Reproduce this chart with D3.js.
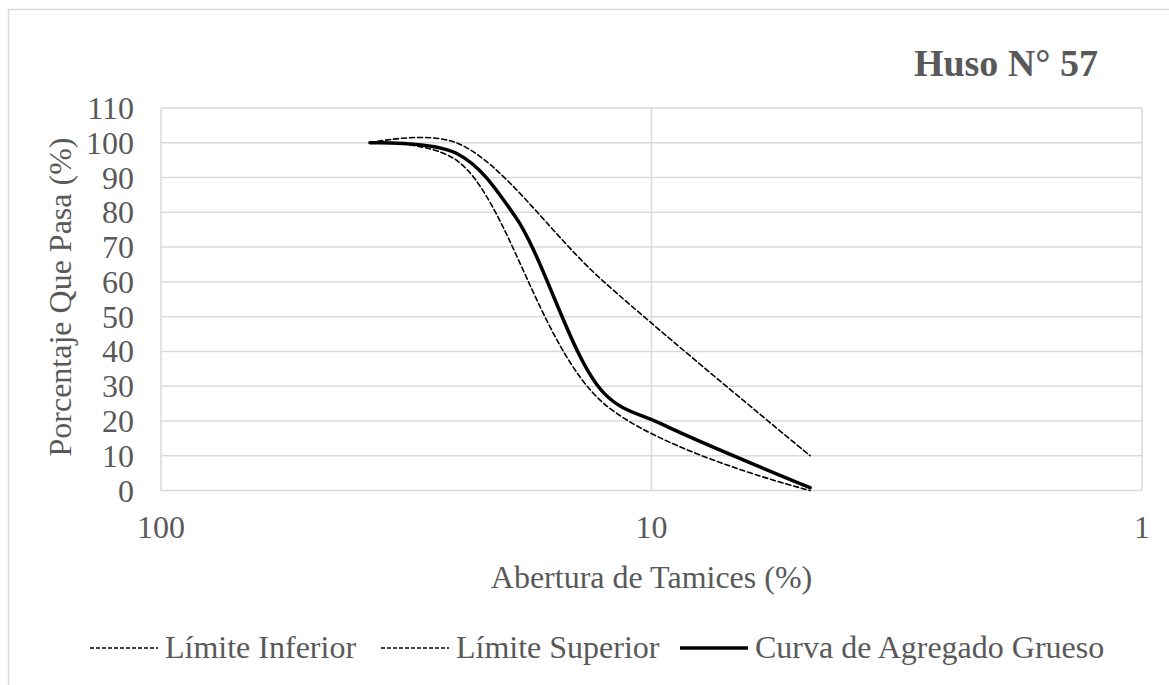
<!DOCTYPE html>
<html>
<head>
<meta charset="utf-8">
<script src="https://cdn.jsdelivr.net/npm/d3@7"></script>
<style>
  body { margin: 0; background: #fff; }
  svg text { font-family: "Liberation Serif", "Times New Roman", serif; fill: #595959; }
</style>
</head>
<body>
<div id="chart"></div>
<script>

// sieve openings (mm) and % passing
var tamices = [37.5, 25, 12.5, 4.75];
var limiteInferior = [100, 95, 25, 0];
var limiteSuperior = [100, 100, 60, 10];
var tamicesCurva = [37.5, 25, 19, 12.5, 9.5, 4.75];
var curvaGrueso = [100, 97, 79, 28, 19, 0.8];

var yTicks = [0, 10, 20, 30, 40, 50, 60, 70, 80, 90, 100, 110];
var xTicks = [100, 10, 1];

function drawChart(){

    var width = 1169,
        height = 685;

    var svg = d3.select('#chart')
        .append('svg')
        .attr('width', width)
        .attr('height', height)
        .attr('font-family', 'Liberation Serif, Times New Roman, serif');

    //outer chart border
    svg.append('rect')
        .attr('x', 8.5).attr('y', 9.5)
        .attr('width', 1180).attr('height', 700)
        .attr('fill', 'none')
        .attr('stroke', '#d9d9d9')
        .attr('stroke-width', 1.5);

    var x = d3.scaleLog().domain([100, 1]).range([161, 1142]);
    var y = d3.scaleLinear().domain([0, 110]).range([490.5, 108]);

    //horizontal gridlines
    svg.selectAll('.hgrid')
        .data(yTicks)
        .enter()
        .append('line')
        .attr('class', 'hgrid')
        .attr('x1', x(100)).attr('x2', x(1))
        .attr('y1', function(d){ return y(d); })
        .attr('y2', function(d){ return y(d); })
        .attr('stroke', '#d9d9d9')
        .attr('stroke-width', 1.5);

    //vertical gridlines
    svg.selectAll('.vgrid')
        .data(xTicks)
        .enter()
        .append('line')
        .attr('class', 'vgrid')
        .attr('x1', function(d){ return x(d); })
        .attr('x2', function(d){ return x(d); })
        .attr('y1', y(0)).attr('y2', y(110))
        .attr('stroke', '#d9d9d9')
        .attr('stroke-width', 1.5);

    //y tick labels
    svg.selectAll('.ylab')
        .data(yTicks)
        .enter()
        .append('text')
        .attr('class', 'ylab')
        .attr('x', 134)
        .attr('y', function(d){ return y(d) + 11; })
        .attr('text-anchor', 'end')
        .style('font-size', '32px')
        .text(function(d){ return d; });

    //x tick labels
    svg.selectAll('.xlab')
        .data(xTicks)
        .enter()
        .append('text')
        .attr('class', 'xlab')
        .attr('x', function(d){ return x(d); })
        .attr('y', 538)
        .attr('text-anchor', 'middle')
        .style('font-size', '32px')
        .text(function(d){ return d; });

    //axis titles
    svg.append('text')
        .attr('x', (x(100) + x(1)) / 2)
        .attr('y', 588)
        .attr('text-anchor', 'middle')
        .style('font-size', '32px')
        .text('Abertura de Tamices (%)');

    svg.append('text')
        .attr('transform', 'translate(71,297) rotate(-90)')
        .attr('text-anchor', 'middle')
        .style('font-size', '32px')
        .text('Porcentaje Que Pasa (%)');

    //title
    svg.append('text')
        .attr('x', 1098)
        .attr('y', 76)
        .attr('text-anchor', 'end')
        .style('font-size', '38px')
        .style('font-weight', 'bold')
        .text('Huso N° 57');

    var line = d3.line()
        .x(function(d){ return x(d[0]); })
        .y(function(d){ return y(d[1]); })
        .curve(d3.curveCatmullRom.alpha(0.5));

    var series = [
        {name: 'Límite Inferior', data: d3.zip(tamices, limiteInferior), width: 1.6, dash: '5,3'},
        {name: 'Límite Superior', data: d3.zip(tamices, limiteSuperior), width: 1.6, dash: '5,3'},
        {name: 'Curva de Agregado Grueso', data: d3.zip(tamicesCurva, curvaGrueso), width: 3.5, dash: null}
    ];

    svg.selectAll('.serie')
        .data(series)
        .enter()
        .append('path')
        .attr('class', 'serie')
        .attr('d', function(d){ return line(d.data); })
        .attr('fill', 'none')
        .attr('stroke', '#000')
        .attr('stroke-width', function(d){ return d.width; })
        .attr('stroke-dasharray', function(d){ return d.dash; })
        .attr('stroke-linecap', 'round');

    //legend
    var legendX = [90, 381, 680];
    var legend = svg.selectAll('.leg')
        .data(series)
        .enter()
        .append('g')
        .attr('class', 'leg')
        .attr('transform', function(d, i){ return 'translate(' + legendX[i] + ',648)'; });

    legend.append('line')
        .attr('x1', 0).attr('x2', 68)
        .attr('y1', 0).attr('y2', 0)
        .attr('stroke', '#000')
        .attr('stroke-width', function(d){ return d.dash ? 1.6 : 3.5; })
        .attr('stroke-dasharray', function(d){ return d.dash ? '4,2' : null; });

    legend.append('text')
        .attr('x', 75)
        .attr('y', 10)
        .style('font-size', '32px')
        .text(function(d){ return d.name; });
};

window.onload = drawChart();
</script>
</body>
</html>
